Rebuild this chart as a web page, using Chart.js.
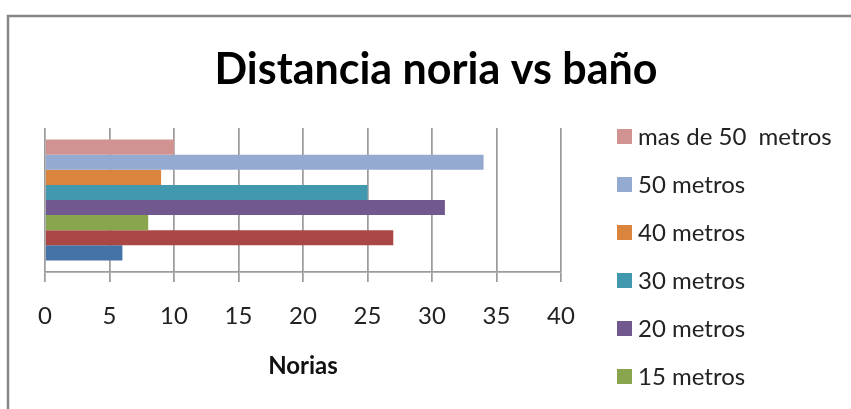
<!DOCTYPE html>
<html>
<head>
<meta charset="utf-8">
<script src="https://cdn.jsdelivr.net/npm/chart.js@4/dist/chart.umd.min.js"></script>
<style>
  html, body { margin: 0; padding: 0; background: #fff; overflow: hidden; }
  #wrap { width: 851px; height: 409px; }
</style>
</head>
<body>
<div id="wrap"><canvas id="noriaChart" width="851" height="409"></canvas></div>
<script>
// datos (serie 1 abajo, como en Excel)
const categories = [''];
const seriesNames = ['5 metros', '10 metros', '15 metros', '20 metros', '30 metros', '40 metros', '50 metros', 'mas de 50  metros'];
const seriesValues = [6, 27, 8, 31, 25, 9, 34, 10];
const seriesColors = ['#4572A7', '#AA4643', '#89A54E', '#71588F', '#4198AF', '#DB843D', '#94AAD1', '#D19392'];
const xTicks = [0, 5, 10, 15, 20, 25, 30, 35, 40];

const FONT = 'Lato, "Open Sans", sans-serif';

// Chart.js pone el dataset 0 arriba, Excel la serie 1 abajo -> invertir
const datasets = [];
for (let i = seriesNames.length - 1; i >= 0; i--) {
    datasets.push({
        label: seriesNames[i],
        data: [seriesValues[i]],
        backgroundColor: seriesColors[i],
        borderWidth: 0
    });
}

const framePlugin = {
    id: 'frameAndTitle',
    beforeDraw(chart) {
        const { ctx, width, height } = chart;
        ctx.save();
        ctx.fillStyle = '#fff';
        ctx.fillRect(0, 0, width, height);
        ctx.strokeStyle = '#868686';
        ctx.lineWidth = 2.5;
        ctx.beginPath();
        ctx.moveTo(width + 2, 16);
        ctx.lineTo(8, 16);
        ctx.lineTo(8, height + 2);
        ctx.stroke();
        ctx.restore();
    },
    afterDraw(chart) {
        const { ctx } = chart;
        ctx.save();
        // titulo
        ctx.font = 'bold 43px ' + FONT;
        ctx.fillStyle = '#000';
        ctx.textAlign = 'center';
        ctx.textBaseline = 'middle';
        ctx.fillText('Distancia noria vs baño', 436, 70);

        // leyenda (se corta por abajo como en el original)
        ctx.font = '24px ' + FONT;
        ctx.textAlign = 'left';
        chart.data.datasets.forEach((ds, i) => {
            const y = 136 + i * 48;
            ctx.fillStyle = ds.backgroundColor;
            ctx.fillRect(617, y - 7, 15, 15);
            ctx.fillStyle = '#222';
            ctx.fillText(ds.label, 638, y + 1);
        });
        ctx.restore();
    }
};

const ctx = document.getElementById('noriaChart').getContext('2d');
new Chart(ctx, {
    type: 'bar',
    data: { labels: categories, datasets: datasets },
    options: {
        indexAxis: 'y',
        responsive: false,
        animation: false,
        layout: { padding: { left: 45, right: 290, top: 128, bottom: 0 } },
        datasets: { bar: { categoryPercentage: 0.84, barPercentage: 1.0 } },
        plugins: {
            legend: { display: false },
            title: { display: false },
            tooltip: { enabled: false }
        },
        scales: {
            x: {
                type: 'linear',
                min: 0,
                max: 40,
                afterBuildTicks: (scale) => { scale.ticks = xTicks.map(v => ({ value: v })); },
                afterFit: (scale) => { scale.height = 137; },
                grid: { color: '#9c9c9c', lineWidth: 1.75, tickLength: 10, drawTicks: true },
                border: { display: true, color: '#9c9c9c', width: 1.75 },
                ticks: { padding: 20, color: '#222', font: { family: FONT, size: 24 } },
                title: {
                    display: true,
                    text: 'Norias',
                    color: '#111',
                    font: { family: FONT, size: 24, weight: 'bold' },
                    padding: { top: 0, bottom: 28 }
                }
            },
            y: {
                display: false
            }
        }
    },
    plugins: [framePlugin]
});
</script>
</body>
</html>
